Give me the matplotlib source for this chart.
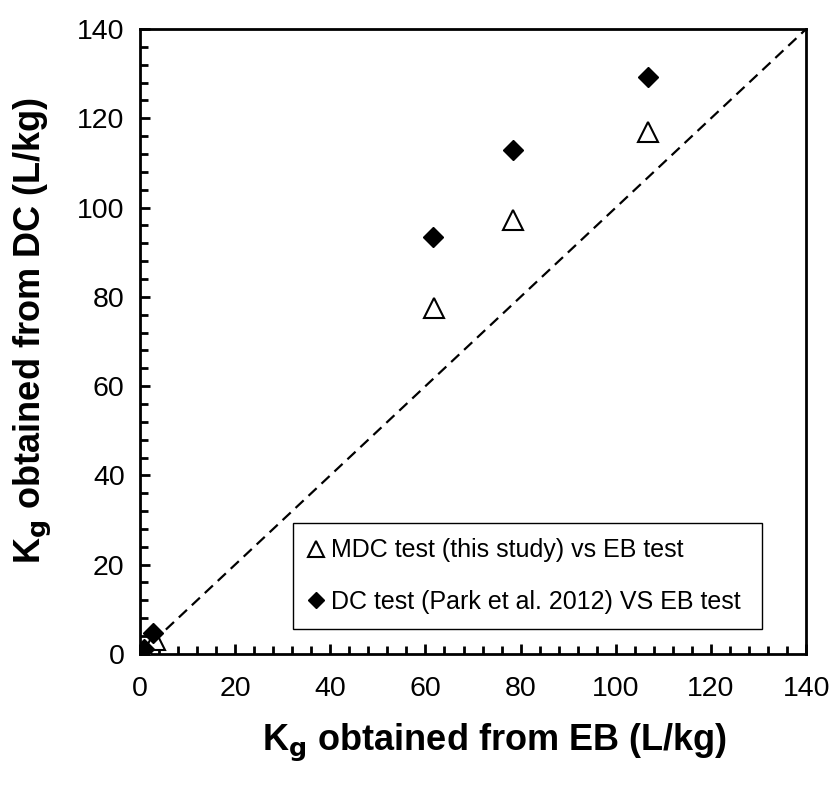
import matplotlib
matplotlib.use("Agg")
import matplotlib.pyplot as plt
from matplotlib.ticker import MultipleLocator

plt.rcParams['font.family'] = ['Liberation Sans', 'DejaVu Sans']

# K_g from EB test (x) vs DC-type tests (y), L/kg
mdc_eb = [0.4, 1.0, 3.2, 61.8, 78.4, 106.8]
mdc_dc = [0.3, 0.6, 3.1, 77.5, 97.2, 116.9]
park_eb = [0.3, 0.8, 2.8, 61.6, 78.4, 106.8]
park_dc = [0.5, 1.0, 4.6, 93.4, 112.9, 129.3]

axis_max = 140
line_1to1 = [0, axis_max]

fig = plt.figure(figsize=(8.38, 7.85), dpi=100)
ax = fig.add_axes([0.167, 0.167, 0.795, 0.796])

ax.plot(line_1to1, line_1to1, linestyle=(0, (5, 3)), color='black', lw=1.6, zorder=1)
ax.plot(mdc_eb, mdc_dc, linestyle='none', marker='^', markersize=15,
        markerfacecolor='white', markeredgecolor='black', markeredgewidth=1.5,
        label='MDC test (this study) vs EB test', zorder=3)
ax.plot(park_eb, park_dc, linestyle='none', marker='D', markersize=10.5,
        markerfacecolor='black', markeredgecolor='black',
        label='DC test (Park et al. 2012) VS EB test', zorder=4)

ax.set_xlim(0, axis_max)
ax.set_ylim(0, axis_max)
ax.xaxis.set_major_locator(MultipleLocator(20))
ax.yaxis.set_major_locator(MultipleLocator(20))
ax.xaxis.set_minor_locator(MultipleLocator(4))
ax.yaxis.set_minor_locator(MultipleLocator(4))
ax.tick_params(axis='both', which='major', direction='in', length=7, width=2, labelsize=20.5)
ax.tick_params(axis='both', which='minor', direction='in', length=5.5, width=2)
ax.tick_params(axis='x', which='major', pad=16)
ax.tick_params(axis='y', which='major', pad=11)
for s in ax.spines.values():
    s.set_linewidth(2)

ax.set_xlabel(r'K$_\mathbf{g}$ obtained from EB (L/kg)', fontsize=26, fontweight='bold')
ax.set_ylabel(r'K$_\mathbf{g}$ obtained from DC (L/kg)', fontsize=26, fontweight='bold')
ax.xaxis.set_label_coords(0.533, -0.143, transform=ax.transAxes)
ax.yaxis.set_label_coords(-0.16, 0.518, transform=ax.transAxes)
ax.xaxis.label.set_va('center')
ax.yaxis.label.set_va('center')

leg = ax.legend(loc='center', bbox_to_anchor=(0.23, 0.038, 0.704, 0.173), mode='expand',
                borderaxespad=0, fontsize=18, markerscale=0.75, handlelength=0.6,
                handletextpad=0.3, borderpad=0.6, labelspacing=1.1, fancybox=False,
                edgecolor='black', framealpha=1)
leg.get_frame().set_linewidth(1.0)

fig.savefig('out.png', dpi=100)
